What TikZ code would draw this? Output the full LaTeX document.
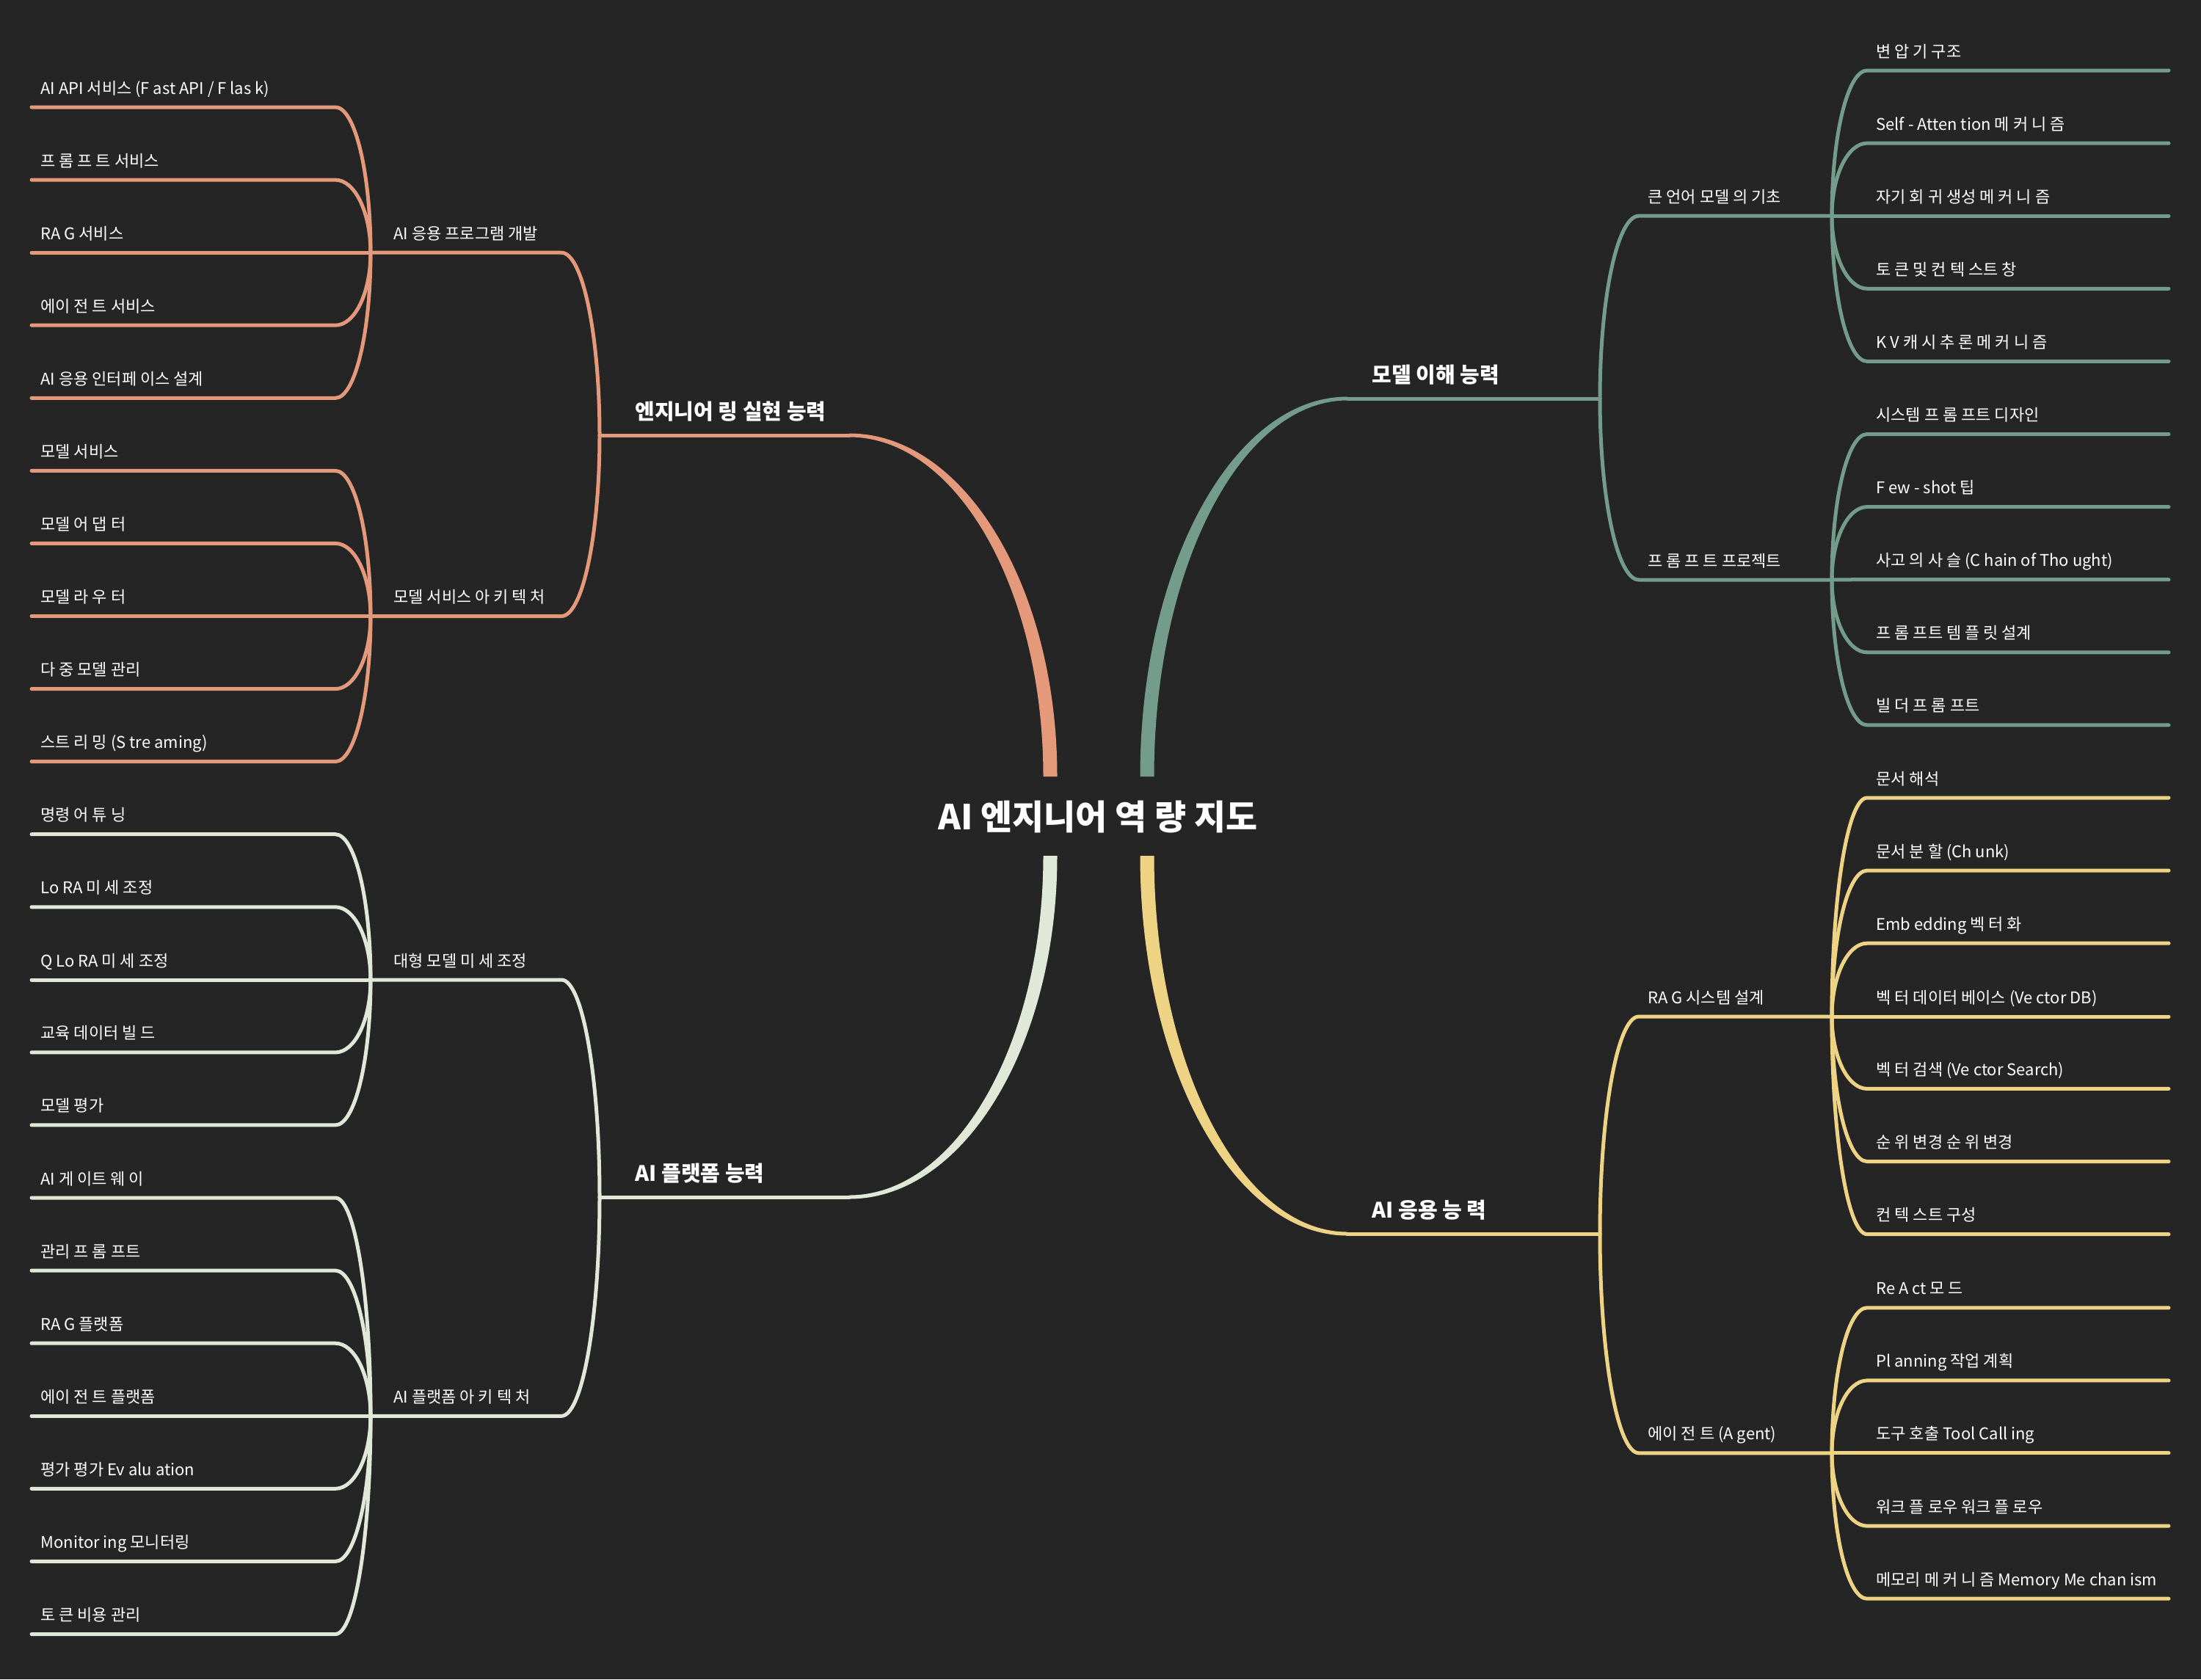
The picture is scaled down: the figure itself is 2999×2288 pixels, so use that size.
\documentclass[tikz,border=0pt]{standalone}
\usepackage{fontspec}
\setmainfont{Noto Sans CJK KR}
\definecolor{bg}{HTML}{252525}
\definecolor{cOr}{HTML}{E3997A}
\definecolor{cTe}{HTML}{739C8D}
\definecolor{cLg}{HTML}{E0E8D7}
\definecolor{cYe}{HTML}{EFD385}
\tikzset{
  brline/.style={line width=2.5pt,line cap=round},
  leaftext/.style={text=white,inner sep=0pt,font=\fontsize{11}{13}\selectfont},
  maintext/.style={text=white,inner sep=0pt,font=\fontsize{14.5}{17}\selectfont\bfseries},
  titletext/.style={text=white,inner sep=0pt,font=\fontsize{23.4}{27}\selectfont\bfseries}
}
% tapered main branch: color, name, tx, ty (title end), hx, hy (horizontal end)
\newcommand\mainbr[6]{%
  \pgfmathsetmacro\sa{sign(#3-#5)}%
  \pgfmathsetmacro\sb{sign(#6-#4)}%
  \pgfmathsetmacro\aO{#3-#5+\sa*9.5}%
  \pgfmathsetmacro\bO{#6-#4+\sb*2.5}%
  \pgfmathsetmacro\aI{#3-#5-\sa*9.5}%
  \pgfmathsetmacro\bI{#6-#4-\sb*2.5}%
  \pgfmathsetmacro\pAx{#5}\pgfmathsetmacro\pAy{#4+\bO}%
  \pgfmathsetmacro\pBx{#5+0.5523*\aO}\pgfmathsetmacro\pBy{#4+\bO}%
  \pgfmathsetmacro\pCx{#5+\aO}\pgfmathsetmacro\pCy{#4+0.5523*\bO}%
  \pgfmathsetmacro\pDx{#5+\aO}\pgfmathsetmacro\pDy{#4}%
  \pgfmathsetmacro\pEx{#5+\aI}\pgfmathsetmacro\pEy{#4}%
  \pgfmathsetmacro\pFx{#5+\aI}\pgfmathsetmacro\pFy{#4+0.5523*\bI}%
  \pgfmathsetmacro\pGx{#5+0.5523*\aI}\pgfmathsetmacro\pGy{#4+\bI}%
  \pgfmathsetmacro\pHx{#5}\pgfmathsetmacro\pHy{#4+\bI}%
  \coordinate (#2t) at (#3,#4);
  \coordinate (#2h) at (#5,#6);
  \fill[#1] (\pAx,\pAy) .. controls (\pBx,\pBy) and (\pCx,\pCy) .. (\pDx,\pDy)
     -- (\pEx,\pEy) .. controls (\pFx,\pFy) and (\pGx,\pGy) .. (\pHx,\pHy) -- cycle;
}
% left sub: color, name, ymain, ysub, text
\newcommand\lsub[5]{%
  \coordinate (#2p) at (817,#3);
  \coordinate (#2c) at (765,#4);
  \coordinate (#2h) at (505,#4);
  \pgfmathsetmacro\cy{#3+0.5523*(#4-#3)}%
  \draw[#1,brline] (#2p) .. controls (817,\cy) and (793.7,#4) .. (#2c) -- (#2h);
  \node[leaftext,anchor=base west] (#2) at (536,#4-18) {#5};
}
\newcommand\rsub[5]{%
  \coordinate (#2p) at (2180,#3);
  \coordinate (#2c) at (2233,#4);
  \coordinate (#2h) at (2496,#4);
  \pgfmathsetmacro\cy{#3+0.5523*(#4-#3)}%
  \draw[#1,brline] (#2p) .. controls (2180,\cy) and (2203.7,#4) .. (#2c) -- (#2h);
  \node[leaftext,anchor=base west] (#2) at (2245,#4-18) {#5};
}
% leaves: color, subname, name, ysub, yleaf, text
\newcommand\lleaf[6]{%
  \coordinate (#3c) at (457,#5);
  \coordinate (#3e) at (43,#5);
  \pgfmathsetmacro\cy{#4+0.5523*(#5-#4)}%
  \draw[#1,brline] (#2h) .. controls (505,\cy) and (483.5,#5) .. (#3c) -- (#3e);
  \node[leaftext,anchor=base west] (#3) at (55,#5-18) {#6};
}
\newcommand\rleaf[6]{%
  \coordinate (#3c) at (2544,#5);
  \coordinate (#3e) at (2955,#5);
  \pgfmathsetmacro\cy{#4+0.5523*(#5-#4)}%
  \draw[#1,brline] (#2h) .. controls (2496,\cy) and (2517.5,#5) .. (#3c) -- (#3e);
  \node[leaftext,anchor=base west] (#3) at (2556,#5-18) {#6};
}
\begin{document}
\begin{tikzpicture}[x=0.5pt,y=-0.5pt]
\fill[bg] (0,0) rectangle (2999,2288);
\useasboundingbox (0,0) rectangle (2999,2288);

\node[titletext] (title) at (1496,1113) {AI 엔지니어 역 량 지도};

% ---------- main branches ----------
\mainbr{cOr}{mo}{1431}{1058}{1157}{593}
\draw[cOr,brline] (moh) -- (817,593) coordinate (mop);
\node[maintext,anchor=base west] (mol) at (865,571) {엔지니어 링 실현 능력};

\mainbr{cLg}{ml}{1431}{1166}{1157}{1631}
\draw[cLg,brline] (mlh) -- (817,1631) coordinate (mlp);
\node[maintext,anchor=base west] (mll) at (865,1609) {AI 플랫폼 능력};

\mainbr{cTe}{mt}{1563}{1058}{1836}{543}
\draw[cTe,brline] (mth) -- (2180,543) coordinate (mtp);
\node[maintext,anchor=base west] (mtl) at (1869,521) {모델 이해 능력};

\mainbr{cYe}{my}{1563}{1166}{1836}{1681}
\draw[cYe,brline] (myh) -- (2180,1681) coordinate (myp);
\node[maintext,anchor=base west] (myl) at (1869,1659) {AI 응용 능 력};

% ---------- orange ----------
\lsub{cOr}{s1}{593}{344.2}{AI 응용 프로그램 개발}
\lleaf{cOr}{s1}{a1}{344.2}{146}{AI API 서비스 (F ast API / F las k)}
\lleaf{cOr}{s1}{a2}{344.2}{245.1}{프 롬 프 트 서비스}
\lleaf{cOr}{s1}{a3}{344.2}{344.2}{RA G 서비스}
\lleaf{cOr}{s1}{a4}{344.2}{443.2}{에이 전 트 서비스}
\lleaf{cOr}{s1}{a5}{344.2}{542.3}{AI 응용 인터페 이스 설계}

\lsub{cOr}{s2}{593}{839.5}{모델 서비스 아 키 텍 처}
\lleaf{cOr}{s2}{b1}{839.5}{641.4}{모델 서비스}
\lleaf{cOr}{s2}{b2}{839.5}{740.4}{모델 어 댑 터}
\lleaf{cOr}{s2}{b3}{839.5}{839.5}{모델 라 우 터}
\lleaf{cOr}{s2}{b4}{839.5}{938.6}{다 중 모델 관리}
\lleaf{cOr}{s2}{b5}{839.5}{1037.6}{스트 리 밍 (S tre aming)}

% ---------- light green ----------
\lsub{cLg}{s3}{1631}{1335}{대형 모델 미 세 조정}
\lleaf{cLg}{s3}{c1}{1335}{1136.7}{명령 어 튜 닝}
\lleaf{cLg}{s3}{c2}{1335}{1235.8}{Lo RA 미 세 조정}
\lleaf{cLg}{s3}{c3}{1335}{1335}{Q Lo RA 미 세 조정}
\lleaf{cLg}{s3}{c4}{1335}{1433.9}{교육 데이터 빌 드}
\lleaf{cLg}{s3}{c5}{1335}{1532.9}{모델 평가}

\lsub{cLg}{s4}{1631}{1929.3}{AI 플랫폼 아 키 텍 처}
\lleaf{cLg}{s4}{d1}{1929.3}{1632}{AI 게 이트 웨 이}
\lleaf{cLg}{s4}{d2}{1929.3}{1731.1}{관리 프 롬 프트}
\lleaf{cLg}{s4}{d3}{1929.3}{1830.2}{RA G 플랫폼}
\lleaf{cLg}{s4}{d4}{1929.3}{1929.3}{에이 전 트 플랫폼}
\lleaf{cLg}{s4}{d5}{1929.3}{2028.3}{평가 평가 Ev alu ation}
\lleaf{cLg}{s4}{d6}{1929.3}{2127.4}{Monitor ing 모니터링}
\lleaf{cLg}{s4}{d7}{1929.3}{2226.5}{토 큰 비용 관리}

% ---------- teal ----------
\rsub{cTe}{s5}{543}{294.2}{큰 언어 모델 의 기초}
\rleaf{cTe}{s5}{e1}{294.2}{96}{변 압 기 구조}
\rleaf{cTe}{s5}{e2}{294.2}{195.1}{Self - Atten tion 메 커 니 즘}
\rleaf{cTe}{s5}{e3}{294.2}{294.2}{자기 회 귀 생성 메 커 니 즘}
\rleaf{cTe}{s5}{e4}{294.2}{393.3}{토 큰 및 컨 텍 스트 창}
\rleaf{cTe}{s5}{e5}{294.2}{492.4}{K V 캐 시 추 론 메 커 니 즘}

\rsub{cTe}{s6}{543}{790}{프 롬 프 트 프로젝트}
\rleaf{cTe}{s6}{f1}{790}{591.5}{시스템 프 롬 프트 디자인}
\rleaf{cTe}{s6}{f2}{790}{690.6}{F ew - shot 팁}
\rleaf{cTe}{s6}{f3}{790}{789.7}{사고 의 사 슬 (C hain of Tho ught)}
\rleaf{cTe}{s6}{f4}{790}{888.8}{프 롬 프트 템 플 릿 설계}
\rleaf{cTe}{s6}{f5}{790}{987.9}{빌 더 프 롬 프트}

% ---------- yellow ----------
\rsub{cYe}{s7}{1681}{1385}{RA G 시스템 설계}
\rleaf{cYe}{s7}{g1}{1385}{1087}{문서 해석}
\rleaf{cYe}{s7}{g2}{1385}{1186.1}{문서 분 할 (Ch unk)}
\rleaf{cYe}{s7}{g3}{1385}{1285.2}{Emb edding 벡 터 화}
\rleaf{cYe}{s7}{g4}{1385}{1385}{벡 터 데이터 베이스 (Ve ctor DB)}
\rleaf{cYe}{s7}{g5}{1385}{1483.4}{벡 터 검색 (Ve ctor Search)}
\rleaf{cYe}{s7}{g6}{1385}{1582.5}{순 위 변경 순 위 변경}
\rleaf{cYe}{s7}{g7}{1385}{1681.6}{컨 텍 스트 구성}

\rsub{cYe}{s8}{1681}{1979.8}{에이 전 트 (A gent)}
\rleaf{cYe}{s8}{h1}{1979.8}{1781.8}{Re A ct 모 드}
\rleaf{cYe}{s8}{h2}{1979.8}{1880.9}{Pl anning 작업 계획}
\rleaf{cYe}{s8}{h3}{1979.8}{1979.8}{도구 호출 Tool Call ing}
\rleaf{cYe}{s8}{h4}{1979.8}{2079.1}{워크 플 로우 워크 플 로우}
\rleaf{cYe}{s8}{h5}{1979.8}{2178.2}{메모리 메 커 니 즘 Memory Me chan ism}
\end{tikzpicture}
\end{document}
